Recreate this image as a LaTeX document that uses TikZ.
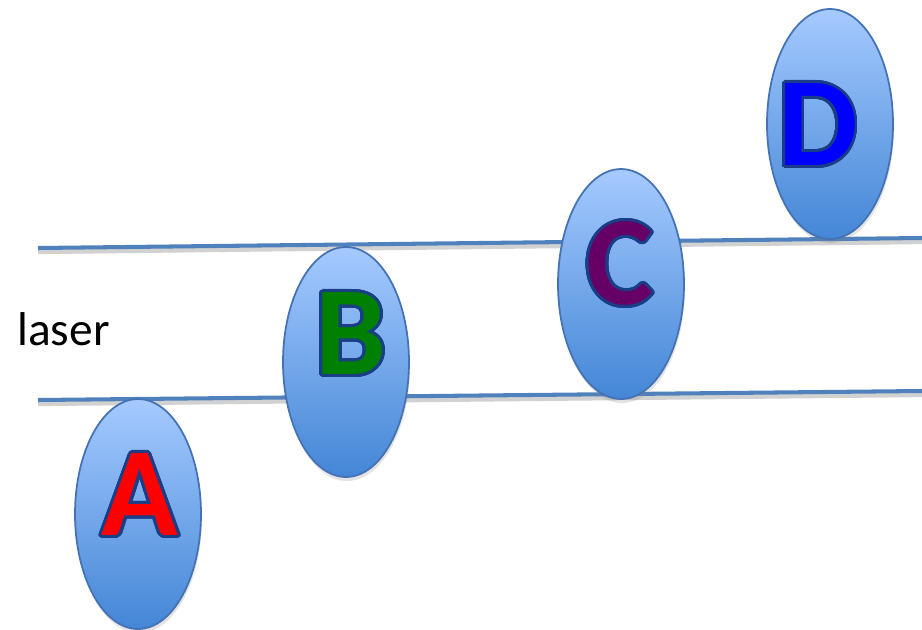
\documentclass[tikz,border=0pt]{standalone}
\usepackage{fontspec}
\setsansfont{Carlito}
\usepackage[copies]{contour}
\usetikzlibrary{shapes.geometric,shadows}
\definecolor{beamblue}{RGB}{79,129,189}
\definecolor{spottop}{RGB}{165,202,255}
\definecolor{spotbot}{RGB}{68,134,214}
\definecolor{spotedge}{RGB}{68,114,180}
\definecolor{rim}{RGB}{25,62,135}
\definecolor{plum}{RGB}{102,0,102}
\contourlength{1.6pt}
\contournumber{32}

\begin{document}
\begin{tikzpicture}[
  x=0.02cm, y=-0.02cm,
  beam/.style={draw=beamblue, line width=2.3pt,
               preaction={draw=black!18, line width=3pt, transform canvas={yshift=-0.07cm}}},
  spot/.style={ellipse, draw=spotedge, line width=1pt, top color=spottop, bottom color=spotbot,
               minimum width=2.52cm, minimum height=4.6cm, inner sep=0pt,
               drop shadow={opacity=0.22, shadow xshift=0.02cm, shadow yshift=-0.08cm}},
  letter/.style={font=\sffamily\bfseries\fontsize{72}{72}\selectfont, inner sep=0pt},
]
\useasboundingbox (0,0) rectangle (922,629);

% laser beam edges
\coordinate (t1) at (38,248);
\coordinate (t2) at (922,238);
\coordinate (b1) at (38,400);
\coordinate (b2) at (922,391);
\draw[beam] (t1) -- (t2);
\draw[beam] (b1) -- (b2);
\node[font=\sffamily\fontsize{27}{27}\selectfont, anchor=base west, inner sep=0pt] (laser) at (17,345) {laser};

% particles
\node[spot] (pa) at (138,514) {};
\node[letter, text=red] (la) at (140,496) {\contour{rim}{A}};

\node[spot] (pb) at (346,362) {};
\node[letter, text=green!50!black] (lb) at (351,335) {\contour{rim}{B}};

\node[spot] (pc) at (621,284) {};
\node[letter, text=plum] (lc) at (620,265) {\contour{rim}{C}};

\node[spot] (pd) at (830,124) {};
\node[letter, text=blue] (ld) at (818,126) {\contour{rim}{D}};
\end{tikzpicture}
\end{document}
